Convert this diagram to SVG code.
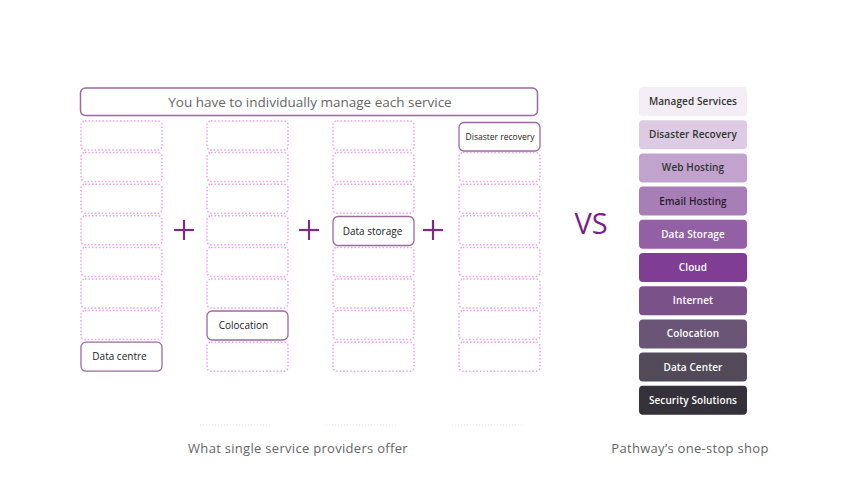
<svg xmlns="http://www.w3.org/2000/svg" width="850" height="500" viewBox="0 0 850 500">
<style>
.slot{fill:none;stroke:#f49ff0;stroke-width:1.5;stroke-dasharray:1.5 2}
.svc{fill:#fff;stroke:#9a6aa0;stroke-width:1.3}
.svct{font-family:"Open Sans","Noto Sans",sans-serif;font-size:10px;fill:#222;text-anchor:middle}
.svcs{font-family:"Open Sans","Noto Sans",sans-serif;font-size:8.5px;fill:#222;text-anchor:middle}
.stack{font-family:"Open Sans","Noto Sans",sans-serif;font-size:10px;font-weight:600;text-anchor:middle;letter-spacing:0.1px}
.plus{stroke:#7b2d88;stroke-width:2.2}
.cap{font-family:"Open Sans","Noto Sans",sans-serif;font-size:13px;fill:#666;text-anchor:middle;letter-spacing:0.3px}
.faint{stroke:#f7dcf2;stroke-width:1;stroke-dasharray:1 2}
</style>
<rect width="850" height="500" fill="#fff"/>
<g id="header">
<rect x="80.5" y="88" width="457" height="27.5" rx="5" fill="#fff" stroke="#9b6aa0" stroke-width="1.5"/>
<text x="310" y="107" font-family="Open Sans, Noto Sans, sans-serif" font-size="13.5" fill="#666" text-anchor="middle">You have to individually manage each service</text>
</g>
<g id="column1">
<rect class="slot" x="81" y="121" width="81" height="29" rx="4"/>
<rect class="slot" x="81" y="152.6" width="81" height="29" rx="4"/>
<rect class="slot" x="81" y="184.2" width="81" height="29" rx="4"/>
<rect class="slot" x="81" y="215.8" width="81" height="29" rx="4"/>
<rect class="slot" x="81" y="247.4" width="81" height="29" rx="4"/>
<rect class="slot" x="81" y="279" width="81" height="29" rx="4"/>
<rect class="slot" x="81" y="310.6" width="81" height="29" rx="4"/>
</g>
<g id="data-centre">
<rect class="svc" x="81" y="342.2" width="81" height="29" rx="5"/>
<text class="svct" x="119.5" y="360">Data centre</text>
</g>
<g id="column2">
<rect class="slot" x="207" y="121" width="81" height="29" rx="4"/>
<rect class="slot" x="207" y="152.6" width="81" height="29" rx="4"/>
<rect class="slot" x="207" y="184.2" width="81" height="29" rx="4"/>
<rect class="slot" x="207" y="215.8" width="81" height="29" rx="4"/>
<rect class="slot" x="207" y="247.4" width="81" height="29" rx="4"/>
<rect class="slot" x="207" y="279" width="81" height="29" rx="4"/>
<rect class="slot" x="207" y="342.2" width="81" height="29" rx="4"/>
</g>
<g id="colocation">
<rect class="svc" x="207" y="311" width="81" height="29" rx="5"/>
<text class="svct" x="243.5" y="329">Colocation</text>
</g>
<g id="column3">
<rect class="slot" x="333" y="121" width="81" height="29" rx="4"/>
<rect class="slot" x="333" y="152.6" width="81" height="29" rx="4"/>
<rect class="slot" x="333" y="184.2" width="81" height="29" rx="4"/>
<rect class="slot" x="333" y="247.4" width="81" height="29" rx="4"/>
<rect class="slot" x="333" y="279" width="81" height="29" rx="4"/>
<rect class="slot" x="333" y="310.6" width="81" height="29" rx="4"/>
<rect class="slot" x="333" y="342.2" width="81" height="29" rx="4"/>
</g>
<g id="data-storage">
<rect class="svc" x="333" y="216.5" width="81" height="29" rx="5"/>
<text class="svct" x="372.5" y="234.5">Data storage</text>
</g>
<g id="column4">
<rect class="slot" x="459" y="152.6" width="81" height="29" rx="4"/>
<rect class="slot" x="459" y="184.2" width="81" height="29" rx="4"/>
<rect class="slot" x="459" y="215.8" width="81" height="29" rx="4"/>
<rect class="slot" x="459" y="247.4" width="81" height="29" rx="4"/>
<rect class="slot" x="459" y="279" width="81" height="29" rx="4"/>
<rect class="slot" x="459" y="310.6" width="81" height="29" rx="4"/>
<rect class="slot" x="459" y="342.2" width="81" height="29" rx="4"/>
</g>
<g id="disaster-recovery">
<rect class="svc" x="459" y="122.5" width="81" height="28.5" rx="5"/>
<text class="svcs" x="500" y="140">Disaster recovery</text>
</g>
<g id="plus-signs">
<line class="plus" x1="174" y1="230" x2="194" y2="230"/><line class="plus" x1="184" y1="220" x2="184" y2="240"/>
<line class="plus" x1="299" y1="230" x2="319" y2="230"/><line class="plus" x1="309" y1="220" x2="309" y2="240"/>
<line class="plus" x1="423" y1="230" x2="443" y2="230"/><line class="plus" x1="433" y1="220" x2="433" y2="240"/>
</g>
<g id="faint-lines">
<line class="faint" x1="200" y1="425" x2="270" y2="425"/>
<line class="faint" x1="326" y1="425" x2="396" y2="425"/>
<line class="faint" x1="452" y1="425" x2="522" y2="425"/>
</g>
<g id="vs">
<text x="591" y="234" font-family="Open Sans, Noto Sans, sans-serif" font-size="29" fill="#7b1f8a" text-anchor="middle">VS</text>
</g>
<g id="stack">
<rect x="639" y="87" width="108" height="29" rx="4" fill="#f3eef5"/><text class="stack" x="693" y="105" fill="#333">Managed Services</text>
<rect x="639" y="120.2" width="108" height="29" rx="4" fill="#dccbe2"/><text class="stack" x="693" y="138.2" fill="#333">Disaster Recovery</text>
<rect x="639" y="153.4" width="108" height="29" rx="4" fill="#c1a3cd"/><text class="stack" x="693" y="171.4" fill="#333">Web Hosting</text>
<rect x="639" y="186.6" width="108" height="29" rx="4" fill="#a77fb6"/><text class="stack" x="693" y="204.6" fill="#2a1a30">Email Hosting</text>
<rect x="639" y="219.8" width="108" height="29" rx="4" fill="#9360a6"/><text class="stack" x="693" y="237.8" fill="#fff">Data Storage</text>
<rect x="639" y="253" width="108" height="29" rx="4" fill="#7f3d93"/><text class="stack" x="693" y="271" fill="#fff">Cloud</text>
<rect x="639" y="286.2" width="108" height="29" rx="4" fill="#7a5188"/><text class="stack" x="693" y="304.2" fill="#fff">Internet</text>
<rect x="639" y="319.4" width="108" height="29" rx="4" fill="#6b5577"/><text class="stack" x="693" y="337.4" fill="#fff">Colocation</text>
<rect x="639" y="352.6" width="108" height="29" rx="4" fill="#524a58"/><text class="stack" x="693" y="370.6" fill="#fff">Data Center</text>
<rect x="639" y="385.8" width="108" height="29" rx="4" fill="#35313a"/><text class="stack" x="693" y="403.8" fill="#fff">Security Solutions</text>
</g>
<g id="captions">
<text class="cap" x="298" y="453">What single service providers offer</text>
<text class="cap" x="690" y="453">Pathway’s one-stop shop</text>
</g>
</svg>
